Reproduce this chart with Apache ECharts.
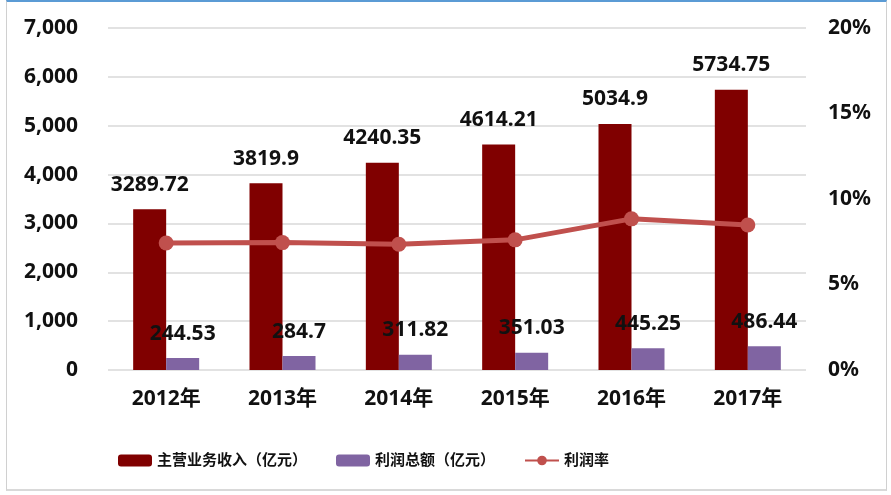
<!DOCTYPE html>
<html><head><meta charset="utf-8">
<script src="https://cdn.jsdelivr.net/npm/echarts@6/dist/echarts.min.js"></script>
<style>
html,body{margin:0;padding:0;background:#fff;}
#frame{position:absolute;left:6px;top:0;width:881px;height:491px;border-top:2px solid #5B9BD5;border-left:1px solid #d0d0d0;border-right:1px solid #d0d0d0;border-bottom:2px solid #d9d9d9;box-sizing:border-box;}
#c{position:absolute;left:0;top:0;width:891px;height:495px;}
</style></head>
<body><div id="frame"></div><div id="c"></div>
<script>
const categories = ['2012年','2013年','2014年','2015年','2016年','2017年'];
const revenue = [3289.72, 3819.9, 4240.35, 4614.21, 5034.9, 5734.75];
const profit = [244.53, 284.7, 311.82, 351.03, 445.25, 486.44];
const profitRate = [7.43, 7.45, 7.35, 7.61, 8.84, 8.48];
const leftTicks = {min:0, max:7000, interval:1000};
const rightTicks = {min:0, max:20, interval:5};

const FONT = '"Noto Sans","Noto Sans CJK SC",sans-serif';
const chart = echarts.init(document.getElementById('c'));
const labelStyle = {show:true, position:'top', distance:14, color:'#111', fontWeight:'bold', fontSize:21, fontFamily:FONT};
chart.setOption({
  animation:false,
  textStyle:{fontFamily:FONT},
  grid:{left:108, right:85, top:28, bottom:125, containLabel:false},
  legend:{
    left:113, top:448, itemWidth:34, itemHeight:12, itemGap:29,
    textStyle:{fontSize:15, fontWeight:'bold', color:'#111', fontFamily:FONT},
    data:['主营业务收入（亿元）','利润总额（亿元）','利润率']
  },
  xAxis:{
    type:'category', data:categories,
    axisLine:{show:false}, axisTick:{show:false},
    axisLabel:{margin:19, fontSize:21, fontWeight:'bold', color:'#111', fontFamily:FONT}
  },
  yAxis:[
    {type:'value', min:leftTicks.min, max:leftTicks.max, interval:leftTicks.interval,
     axisLine:{show:false}, axisTick:{show:false},
     splitLine:{lineStyle:{color:'#d9d9d9', width:1.5}},
     axisLabel:{margin:30, fontSize:21, fontWeight:'bold', color:'#111', fontFamily:FONT,
       formatter:v=>v.toLocaleString('en-US')}},
    {type:'value', min:rightTicks.min, max:rightTicks.max, interval:rightTicks.interval,
     axisLine:{show:false}, axisTick:{show:false}, splitLine:{show:false},
     axisLabel:{margin:22, fontSize:21, fontWeight:'bold', color:'#111', fontFamily:FONT,
       formatter:v=>v+'%'}}
  ],
  series:[
    {name:'主营业务收入（亿元）', type:'bar', data:revenue, barWidth:33, barGap:'0%',
     itemStyle:{color:'#800000'}, label:labelStyle},
    {name:'利润总额（亿元）', type:'bar', data:profit, barWidth:33, barGap:'0%',
     itemStyle:{color:'#8064A2'}, label:labelStyle},
    {name:'利润率', type:'line', yAxisIndex:1, data:profitRate,
     symbol:'circle', symbolSize:15,
     lineStyle:{color:'#C0504D', width:5}, itemStyle:{color:'#C0504D'}}
  ]
});
</script></body></html>
